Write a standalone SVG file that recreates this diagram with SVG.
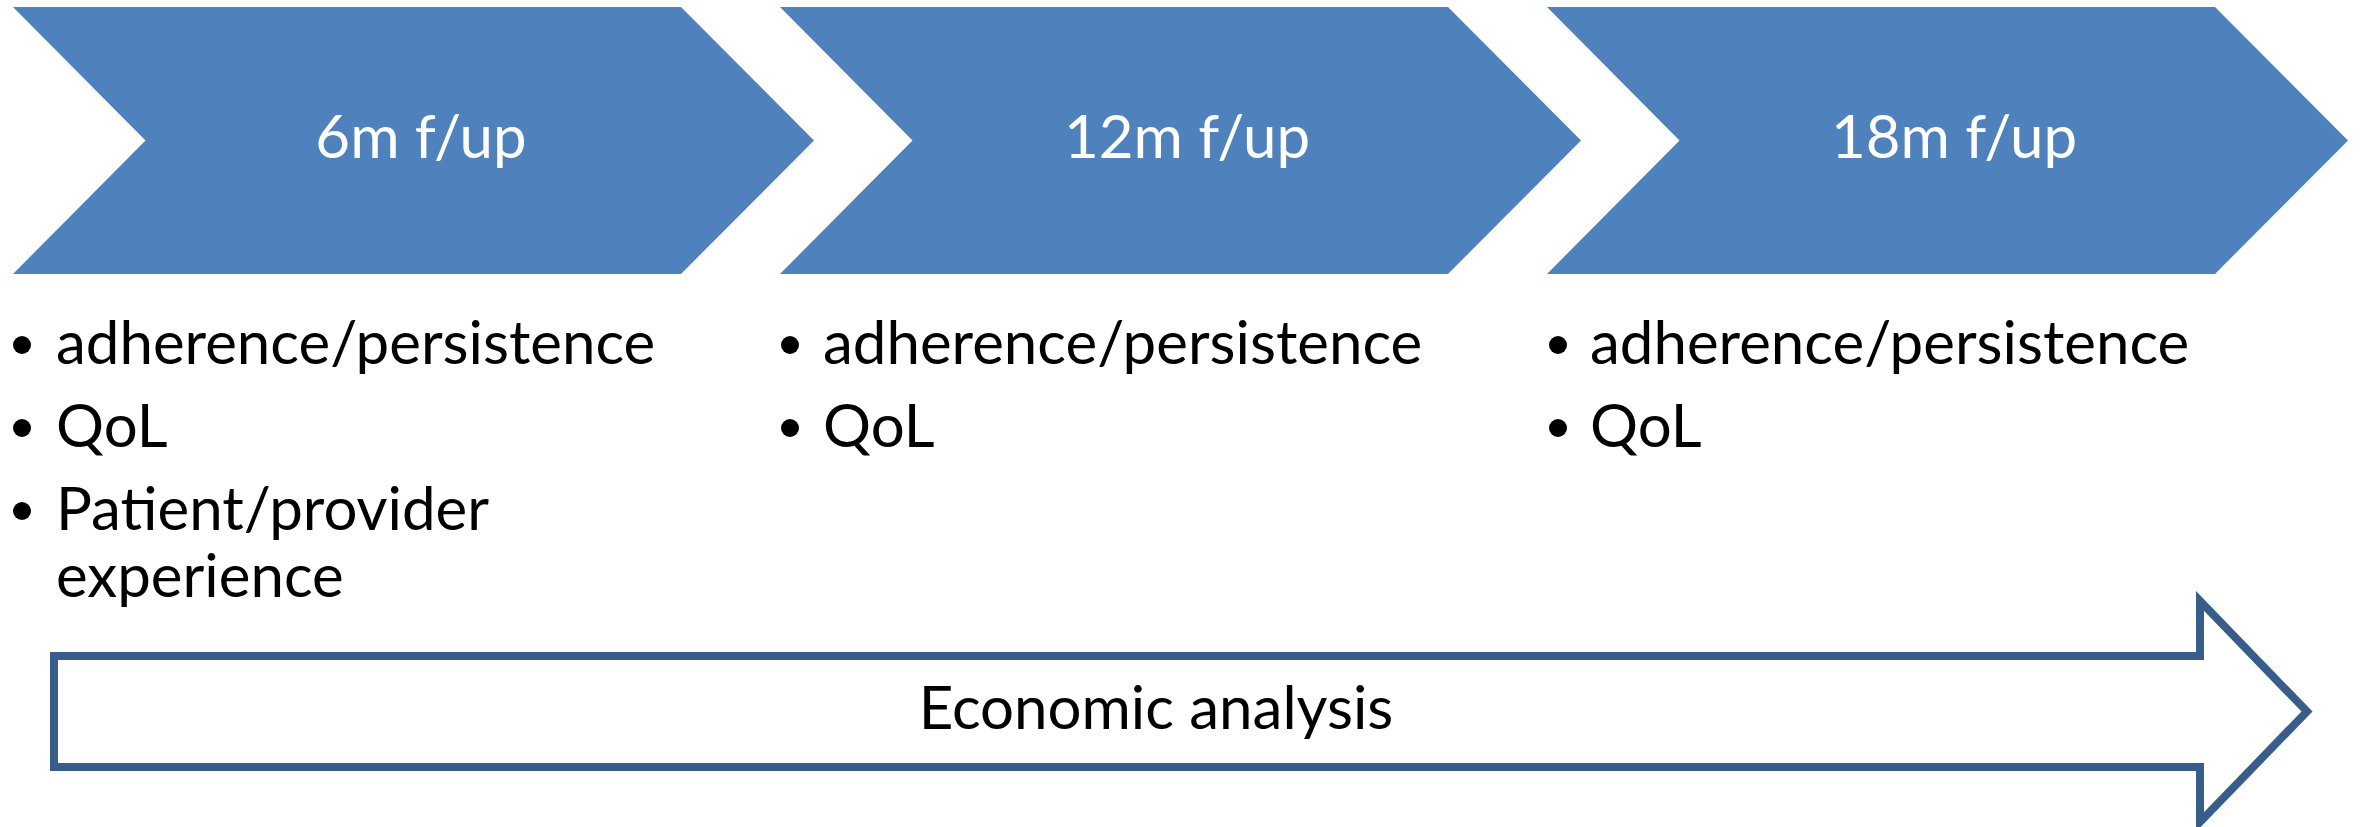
<svg xmlns="http://www.w3.org/2000/svg" width="2361" height="827" viewBox="0 0 2361 827">
  <style>
    .chev { fill: #4F81BD; }
    .chev-label { font-family: Lato, "Open Sans", "Liberation Sans", sans-serif; font-size: 60px; fill: #FFFFFF; text-anchor: middle; }
    .item { font-family: Lato, "Open Sans", "Liberation Sans", sans-serif; font-size: 60px; fill: #000000; }
    .dot { fill: #000000; }
    .band { fill: #FFFFFF; stroke: #385D8A; stroke-width: 8; stroke-linejoin: miter; }
    .band-label { font-family: Lato, "Open Sans", "Liberation Sans", sans-serif; font-size: 60px; fill: #000000; text-anchor: middle; }
  </style>
  <defs>
    <!-- one chevron step, origin at its top-left corner -->
    <polygon id="chevron" points="0,0 668,0 801,133.5 668,267 0,267 132.5,133.5"/>
  </defs>

  <rect width="2361" height="827" fill="#FFFFFF"/>

  <!-- follow-up stages -->
  <g id="stage-6m">
    <use href="#chevron" class="chev" x="13" y="7"/>
    <text class="chev-label" x="421" y="158">6m f/up</text>
    <circle class="dot" cx="22" cy="345" r="9"/>
    <text class="item" x="56" y="364">adherence/persistence</text>
    <circle class="dot" cx="22" cy="428" r="9"/>
    <text class="item" x="56" y="447">QoL</text>
    <circle class="dot" cx="22" cy="511" r="9"/>
    <text class="item" x="56" y="530">Patient/provider</text>
    <text class="item" x="56" y="597">experience</text>
  </g>

  <g id="stage-12m">
    <use href="#chevron" class="chev" x="780" y="7"/>
    <text class="chev-label" x="1187" y="158">12m f/up</text>
    <circle class="dot" cx="790" cy="345" r="9"/>
    <text class="item" x="823" y="364">adherence/persistence</text>
    <circle class="dot" cx="790" cy="428" r="9"/>
    <text class="item" x="823" y="447">QoL</text>
  </g>

  <g id="stage-18m">
    <use href="#chevron" class="chev" x="1547" y="7"/>
    <text class="chev-label" x="1954" y="158">18m f/up</text>
    <circle class="dot" cx="1558" cy="345" r="9"/>
    <text class="item" x="1590" y="364">adherence/persistence</text>
    <circle class="dot" cx="1558" cy="428" r="9"/>
    <text class="item" x="1590" y="447">QoL</text>
  </g>

  <!-- economic analysis spans the whole timeline -->
  <g id="economic-analysis">
    <path class="band" d="M54,656 H2200 V601 L2307,711.5 L2200,822 V767 H54 Z"/>
    <text class="band-label" x="1156" y="729">Economic analysis</text>
  </g>
</svg>
